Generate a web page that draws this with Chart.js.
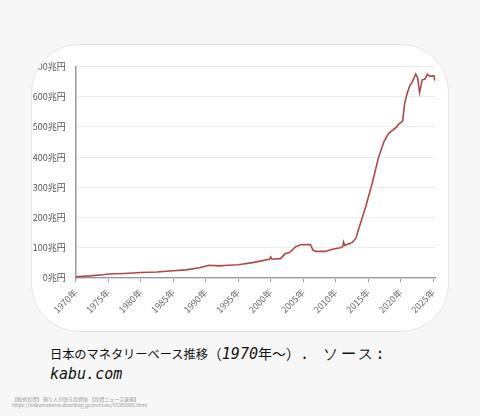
<!DOCTYPE html>
<html><head><meta charset="utf-8">
<script src="https://cdn.jsdelivr.net/npm/chart.js@4"></script>
<style>
html,body{margin:0;padding:0}
body{width:480px;height:416px;background:#f7f7f7;position:relative;overflow:hidden;font-family:"Noto Sans CJK JP",sans-serif}
#card{position:absolute;left:31px;top:44px;width:418px;height:288px;background:#fff;border:1px solid #e4e4e4;border-radius:48px;overflow:hidden;box-sizing:border-box}
#wrap{position:absolute;left:0;top:0;width:416px;height:286px}
#cap{position:absolute;left:50px;top:343px;font-size:12.2px;line-height:20px;color:#111;white-space:nowrap}
#cap .p{font-size:14px}
#cap .m{font-family:"DejaVu Sans Mono",monospace;font-size:15px;letter-spacing:2.5px}
#cap i{font-family:"DejaVu Sans Mono",monospace;font-size:15px}
#wm{position:absolute;left:12px;top:396px;font-size:5px;line-height:6px;color:#9a9a9a;white-space:nowrap}
</style></head>
<body>
<div id="card"><div id="wrap"><canvas id="c" width="416" height="286"></canvas></div></div>
<div id="cap">日本のマネタリーベース推移<span class="p">（<i>1970</i>年～）</span><span class="m">. ソース:</span><br><i>kabu.com</i></div>
<div id="wm">【株式投資】 億り人が語る投資術 【投資ニュース速報】<br>https://kabumatome.doorblog.jp/archives/65985068.html</div>
<script>
const years = [1970.0,1972.2,1974.2,1975.0,1977.5,1980.0,1982.5,1985.0,1987.0,1989.0,1990.5,1992.0,1993.5,1995.0,1997.2,1999.8,2000.0,2000.2,2001.5,2002.2,2002.9,2003.8,2004.6,2006.1,2006.5,2006.9,2008.4,2009.5,2010.7,2011.1,2011.2,2011.4,2012.5,2013.1,2013.4,2013.8,2014.6,2015.6,2016.6,2017.4,2018.1,2019.4,2019.6,2020.1,2020.3,2020.6,2021.0,2021.4,2021.8,2022.3,2022.6,2022.9,2023.3,2023.7,2024.1,2024.5,2024.9,2025.1,2025.25];
const baseTrillionYen = [4,7,11,13,15,18,20,24,27,34,42,40,42,44,51,62,70,62,64,80,84,103,110,111,92,88,88,95,100,104,119,108,117,131,153,180,235,313,400,450,478,500,508,516,520,577,612,637,650,675,662,614,656,658,674,667,669,669,653];
const xTicks = [1970,1975,1980,1985,1990,1995,2000,2005,2010,2015,2020,2025];
const yTicks = [0,100,200,300,400,500,600,700];

const tickFont = {family:'"Noto Sans CJK JP", sans-serif', size:9};
new Chart(document.getElementById('c'), {
  type:'line',
  data:{datasets:[{
    data: years.map((y,i)=>({x:y, y:baseTrillionYen[i]})),
    borderColor:'#b04848', borderWidth:1.6, pointRadius:0, tension:0, fill:false
  }]},
  options:{
    responsive:false, animation:false, devicePixelRatio:1,
    layout:{padding:{left:0,right:12.5,top:21.5,bottom:0}},
    plugins:{legend:{display:false}, tooltip:{enabled:false}},
    scales:{
      x:{type:'linear', min:1970, max:2025.35,
        afterBuildTicks:s=>{s.ticks = xTicks.map(v=>({value:v}));},
        afterFit:s=>{s.height = 53;},
        ticks:{autoSkip:false, maxRotation:45, minRotation:45, color:'#6a6a6a', font:tickFont, padding:5,
          callback:v=>v+'年'},
        grid:{drawOnChartArea:false, drawTicks:true, tickLength:4, color:'#999'},
        border:{color:'#999', width:1.2}
      },
      y:{min:0, max:700,
        afterBuildTicks:s=>{s.ticks = yTicks.map(v=>({value:v}));},
        afterFit:s=>{s.width = 43.7;},
        ticks:{color:'#555', font:tickFont, padding:10, callback:v=>v+'兆円'},
        grid:{color:'#ececec', drawTicks:false, lineWidth:1},
        border:{color:'#999', width:1.5}
      }
    }
  }
});
</script>
</body></html>
